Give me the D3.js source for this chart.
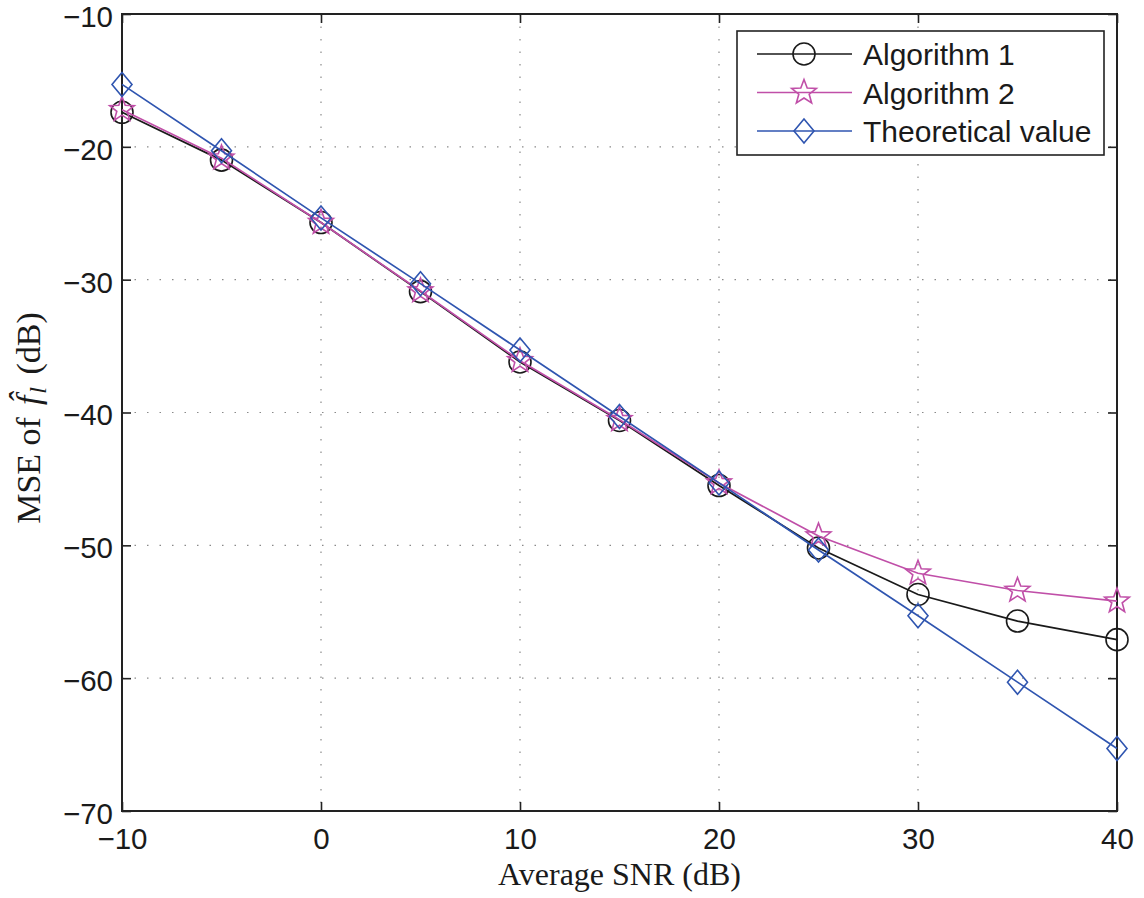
<!DOCTYPE html>
<html><head><meta charset="utf-8">
<script src="https://cdn.jsdelivr.net/npm/d3@7"></script>
<style>body{margin:0;background:#fff}</style>
</head><body>
<svg id="c" width="1144" height="898"></svg>
<script>
const snr = [-10, -5, 0, 5, 10, 15, 20, 25, 30, 35, 40];
const alg1 = [-17.4, -21.0, -25.7, -30.9, -36.2, -40.6, -45.5, -50.2, -53.7, -55.7, -57.1];
const alg2 = [-17.2, -20.85, -25.7, -30.85, -36.1, -40.55, -45.3, -49.3, -52.1, -53.4, -54.2];
const theo = [-15.3, -20.3, -25.35, -30.3, -35.3, -40.3, -45.3, -50.35, -55.3, -60.3, -65.3];
const xTicks = [-10, 0, 10, 20, 30, 40];
const yTicks = [-10, -20, -30, -40, -50, -60, -70];
const seriesNames = ["Algorithm 1", "Algorithm 2", "Theoretical value"];

const svg = d3.select("#c");
const L = 122, R = 1117, T = 14, B = 811;
const x = d3.scaleLinear().domain([-10, 40]).range([L, R]);
const y = d3.scaleLinear().domain([-70, -10]).range([B, T]);
const fmt = v => (v < 0 ? "\u2212" + Math.abs(v) : "" + v);
const sans = "'Liberation Sans', Arial, Helvetica, sans-serif";
const serif = "'Liberation Serif', 'DejaVu Serif', serif";

// grid
const g = svg.append("g");
g.selectAll(".gx").data(xTicks.slice(1, -1)).join("line")
  .attr("x1", d => x(d)).attr("x2", d => x(d)).attr("y1", T).attr("y2", B)
  .attr("stroke", "#8a8a8a").attr("stroke-width", 1.2).attr("stroke-dasharray", "1.5,11");
g.selectAll(".gy").data(yTicks.slice(1, -1)).join("line")
  .attr("y1", d => y(d)).attr("y2", d => y(d)).attr("x1", L).attr("x2", R)
  .attr("stroke", "#8a8a8a").attr("stroke-width", 1.2).attr("stroke-dasharray", "1.5,11");

// axes via d3
const ax = svg.append("g").attr("transform", `translate(0,${B})`)
  .call(d3.axisBottom(x).tickValues(xTicks).tickFormat(fmt).tickSizeInner(-9).tickSizeOuter(0).tickPadding(17));
const ay = svg.append("g").attr("transform", `translate(${L},0)`)
  .call(d3.axisLeft(y).tickValues(yTicks).tickFormat(fmt).tickSizeInner(-9).tickSizeOuter(0).tickPadding(9));
const axT = svg.append("g").attr("transform", `translate(0,${T})`)
  .call(d3.axisTop(x).tickValues(xTicks).tickFormat("").tickSizeInner(-9).tickSizeOuter(0));
const ayR = svg.append("g").attr("transform", `translate(${R},0)`)
  .call(d3.axisRight(y).tickValues(yTicks).tickFormat("").tickSizeInner(-9).tickSizeOuter(0));
[ax, ay, axT, ayR].forEach(a => {
  a.select(".domain").remove();
  a.selectAll("line").attr("stroke", "#222").attr("stroke-width", 1.6);
  a.selectAll("text").attr("fill", "#1a1a1a").style("font-family", sans).style("font-size", "29.5px");
});
ax.selectAll("text").attr("dy", "0.71em");
ay.selectAll("text").attr("dy", "0.42em");
svg.append("rect").attr("x", L).attr("y", T).attr("width", R - L).attr("height", B - T)
  .attr("fill", "none").attr("stroke", "#222").attr("stroke-width", 2);

// series
const colors = ["#1a1a1a", "#c04fa8", "#2f55b0"];
const datasets = [alg1, alg2, theo];
const line = d3.line().x(d => x(d[0])).y(d => y(d[1]));

function starPath(ro) {
  const ri = ro * 0.42; let p = [];
  for (let i = 0; i < 10; i++) {
    const a = -Math.PI / 2 + i * Math.PI / 5;
    const r = i % 2 === 0 ? ro : ri;
    p.push([r * Math.cos(a), r * Math.sin(a)]);
  }
  return "M" + p.map(q => q[0].toFixed(2) + "," + q[1].toFixed(2)).join("L") + "Z";
}
function marker(sel, k, cx, cy) {
  if (k === 0) sel.append("circle").attr("cx", cx).attr("cy", cy).attr("r", 11)
    .attr("fill", "none").attr("stroke", colors[0]).attr("stroke-width", 1.6);
  else if (k === 1) sel.append("path").attr("d", starPath(13)).attr("transform", `translate(${cx},${cy})`)
    .attr("fill", "none").attr("stroke", colors[1]).attr("stroke-width", 1.6);
  else sel.append("path").attr("d", "M0,-12L10,0L0,12L-10,0Z").attr("transform", `translate(${cx},${cy})`)
    .attr("fill", "none").attr("stroke", colors[2]).attr("stroke-width", 1.6);
}
datasets.forEach((ds, k) => {
  const pts = snr.map((s, i) => [s, ds[i]]);
  svg.append("path").attr("d", line(pts)).attr("fill", "none").attr("stroke", colors[k]).attr("stroke-width", 1.7);
  const mg = svg.append("g");
  pts.forEach(p => marker(mg, k, x(p[0]), y(p[1])));
});

// legend
const lg = svg.append("g");
lg.append("rect").attr("x", 737).attr("y", 31).attr("width", 367).attr("height", 124)
  .attr("fill", "#fff").attr("stroke", "#222").attr("stroke-width", 1.6);
seriesNames.forEach((n, k) => {
  const yy = 54 + k * 38.5;
  lg.append("line").attr("x1", 757).attr("x2", 852).attr("y1", yy).attr("y2", yy)
    .attr("stroke", colors[k]).attr("stroke-width", 1.7);
  marker(lg, k, 804, yy);
  lg.append("text").attr("x", 863).attr("y", yy).attr("dy", "0.37em").text(n)
    .attr("fill", "#1a1a1a").style("font-family", sans).style("font-size", "30px");
});

// axis labels
svg.append("text").attr("x", (L + R) / 2).attr("y", 885).attr("text-anchor", "middle")
  .style("font-family", serif).style("font-size", "32px").attr("fill", "#1a1a1a")
  .text("Average SNR (dB)");
const yl = svg.append("text").attr("transform", `translate(40,418) rotate(-90)`).attr("text-anchor", "middle")
  .style("font-family", serif).style("font-size", "34px").attr("fill", "#1a1a1a");
yl.append("tspan").text("MSE of");
yl.append("tspan").style("font-style", "italic").attr("dx", 12).text("f\u0302");
yl.append("tspan").style("font-style", "italic").style("font-size", "24px").attr("dx", 2).attr("dy", 6).text("l");
yl.append("tspan").attr("dy", -6).attr("dx", 4).text(" (dB)");
</script>
</body></html>
